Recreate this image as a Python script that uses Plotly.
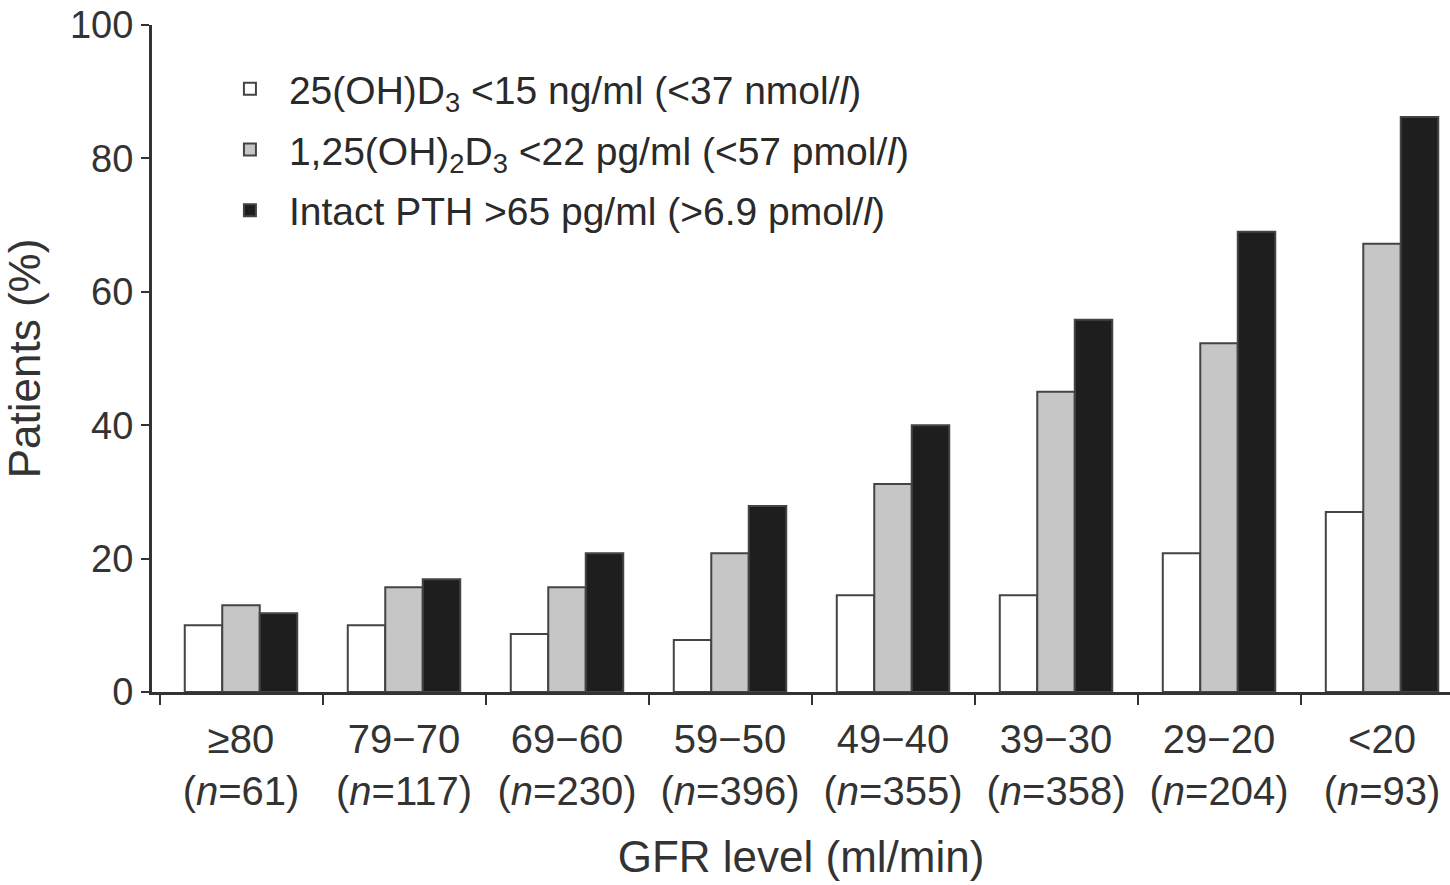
import plotly.graph_objects as go

categories = ["≥80<br>(<i>n</i>=61)", "79−70<br>(<i>n</i>=117)", "69−60<br>(<i>n</i>=230)",
              "59−50<br>(<i>n</i>=396)", "49−40<br>(<i>n</i>=355)", "39−30<br>(<i>n</i>=358)",
              "29−20<br>(<i>n</i>=204)", "&lt;20<br>(<i>n</i>=93)"]
vitd25 = [10, 10, 8.7, 7.8, 14.5, 14.5, 20.8, 27]
vitd125 = [13, 15.7, 15.7, 20.8, 31.2, 45, 52.3, 67.2]
pth = [11.8, 16.9, 20.8, 27.9, 40, 55.8, 69, 86.2]

names = ["25(OH)D<sub>3</sub> &lt;15 ng/ml (&lt;37 nmol/<i>l</i>)",
         "1,25(OH)<sub>2</sub>D<sub>3</sub> &lt;22 pg/ml (&lt;57 pmol/<i>l</i>)",
         "Intact PTH &gt;65 pg/ml (&gt;6.9 pmol/<i>l</i>)"]
fills = ["#ffffff", "#c6c6c6", "#1e1e1e"]

fig = go.Figure()
for i, (vals, nm, col) in enumerate(zip([vitd25, vitd125, pth], names, fills)):
    fig.add_trace(go.Bar(x=categories, y=vals, name=nm, legendgroup=f"g{i}",
                         marker=dict(color=col, line=dict(color="#444444", width=2))))

font = "Liberation Sans, Arial, sans-serif"
fig.update_layout(
    width=1450, height=885,
    margin=dict(l=152, r=0, t=25, b=193),
    paper_bgcolor="white", plot_bgcolor="white",
    barmode="group", bargap=0.31, bargroupgap=0,
    font=dict(family=font, color="#2a2a2a", size=38),
    showlegend=True,
    legend=dict(x=0.0454, y=0.952, xanchor="left", yanchor="top",
                font=dict(size=39, color="#2a2a2a"), bgcolor="rgba(0,0,0,0)",
                tracegroupgap=7, itemwidth=68, traceorder="grouped"),
    xaxis=dict(type="category", tickson="boundaries", ticks="outside", ticklen=10,
               tickwidth=2, tickcolor="#333", showline=True, linecolor="#333", linewidth=3,
               range=[-0.546, 7.417], tickfont=dict(size=40, color="#333"),
               ticklabelstandoff=10, automargin=False,
               title=dict(text="GFR level (ml/min)", font=dict(size=44, color="#333"), standoff=30)),
    yaxis=dict(range=[0, 100], tickvals=[0, 20, 40, 60, 80, 100], ticks="outside", ticklen=8,
               tickwidth=2, tickcolor="#333", showline=True, linecolor="#333", linewidth=3,
               showgrid=False, zeroline=False, tickfont=dict(size=38, color="#333"),
               ticklabeloverflow="allow", automargin=True,
               title=dict(text="Patients (%)", font=dict(size=44, color="#333"), standoff=21)),
)
fig.write_html("out.html", config={"displayModeBar": False},
               post_script="document.body.style.margin='0';")
